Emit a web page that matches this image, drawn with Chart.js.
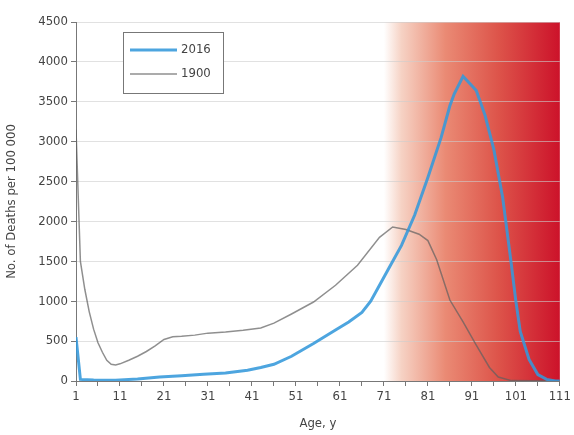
<!DOCTYPE html>
<html>
<head>
<meta charset="utf-8">
<script src="https://cdn.jsdelivr.net/npm/chart.js@4/dist/chart.umd.min.js"></script>
<style>
  html, body { margin: 0; padding: 0; background: #fff; }
  #wrap { position: relative; width: 574px; height: 435px; }
  canvas { display: block; }
</style>
</head>
<body>
<div id="wrap"><canvas id="c" width="574" height="435"></canvas></div>
<script>
// ---- Data ----
const ages1900 = [1, 2, 3, 4, 5, 6, 7, 8, 9, 10, 11, 13, 15, 17, 19, 21, 23, 25, 28, 31, 35, 39, 43, 46, 50, 55, 60, 65, 70, 73, 76, 79, 81, 83, 86, 89, 92, 95, 97, 100, 111];
const deaths1900 = [3150, 1500, 1150, 870, 650, 480, 360, 260, 210, 200, 215, 260, 310, 370, 440, 520, 555, 560, 575, 600, 615, 635, 665, 725, 840, 990, 1200, 1450, 1800, 1930, 1900, 1840, 1760, 1520, 1015, 740, 450, 170, 50, 5, 0];

const ages2016 = [1, 2, 5, 10, 15, 20, 25, 30, 35, 40, 43, 46, 50, 55, 60, 63, 66, 68, 70, 72, 75, 78, 81, 84, 86, 87, 89, 91, 92, 94, 96, 98, 100, 101, 102, 104, 106, 108, 110, 111];
const deaths2016 = [550, 20, 12, 10, 25, 50, 65, 85, 100, 135, 170, 210, 310, 470, 640, 740, 860, 1000, 1200, 1400, 1700, 2080, 2550, 3050, 3450, 3600, 3820, 3700, 3640, 3330, 2900, 2300, 1450, 1000, 620, 270, 80, 20, 0, 0];

const xTickValues = [1, 6, 11, 16, 21, 26, 31, 36, 41, 46, 51, 56, 61, 66, 71, 76, 81, 86, 91, 96, 101, 106, 111];
const xTickLabels = ['1', '11', '21', '31', '41', '51', '61', '71', '81', '91', '101', '111'];
const yTickValues = [0, 500, 1000, 1500, 2000, 2500, 3000, 3500, 4000, 4500];
const seriesNames = ['2016', '1900'];
const bandStartAge = 71;

const FONT = "'Liberation Sans Narrow', 'DejaVu Sans Condensed', 'Liberation Sans', sans-serif";

const toPts = (xs, ys) => xs.map((x, i) => ({ x: x, y: ys[i] }));

const bandPlugin = {
  id: 'band',
  beforeDraw(chart) {
    const { ctx, chartArea, scales } = chart;
    const x0 = scales.x.getPixelForValue(bandStartAge);
    const x1 = chartArea.right;
    const g = ctx.createLinearGradient(x0, 0, x1, 0);
    g.addColorStop(0, 'rgba(255,255,255,1)');
    g.addColorStop(0.1, 'rgb(246,210,196)');
    g.addColorStop(0.35, 'rgb(234,138,116)');
    g.addColorStop(0.65, 'rgb(221,84,74)');
    g.addColorStop(1, 'rgb(204,18,42)');
    ctx.save();
    ctx.fillStyle = g;
    ctx.fillRect(x0, chartArea.top, x1 - x0, chartArea.bottom - chartArea.top);
    ctx.restore();
  }
};

const legendPlugin = {
  id: 'customLegend',
  afterDraw(chart) {
    const { ctx } = chart;
    const bx = 123, by = 32, bw = 100, bh = 61;
    ctx.save();
    ctx.fillStyle = '#fff';
    ctx.fillRect(bx, by, bw, bh);
    ctx.strokeStyle = '#777';
    ctx.lineWidth = 1;
    ctx.strokeRect(bx + 0.5, by + 0.5, bw, bh);
    const rows = [
      { y: 50, color: chart.data.datasets[0].borderColor, w: 3, text: seriesNames[0] },
      { y: 74, color: chart.data.datasets[1].borderColor, w: 1.5, text: seriesNames[1] }
    ];
    ctx.font = '13px ' + FONT;
    ctx.textBaseline = 'middle';
    rows.forEach(r => {
      ctx.strokeStyle = r.color;
      ctx.lineWidth = r.w;
      ctx.beginPath();
      ctx.moveTo(130, r.y);
      ctx.lineTo(177, r.y);
      ctx.stroke();
      ctx.fillStyle = '#444';
      ctx.fillText(r.text, 181, r.y);
    });
    ctx.restore();
  }
};

new Chart(document.getElementById('c'), {
  type: 'line',
  data: {
    datasets: [
      {
        label: seriesNames[0],
        data: toPts(ages2016, deaths2016),
        borderColor: 'rgba(52,152,219,0.88)',
        borderWidth: 3,
        pointRadius: 0,
        tension: 0,
        fill: false
      },
      {
        label: seriesNames[1],
        data: toPts(ages1900, deaths1900),
        borderColor: 'rgba(95,95,95,0.7)',
        borderWidth: 1.5,
        pointRadius: 0,
        tension: 0,
        fill: false
      }
    ]
  },
  options: {
    responsive: false,
    animation: false,
    layout: { padding: { top: 22, right: 14, left: 0, bottom: 0 } },
    plugins: {
      legend: { display: false },
      tooltip: { enabled: false }
    },
    scales: {
      x: {
        type: 'linear',
        min: 1,
        max: 111,
        afterBuildTicks: s => { s.ticks = xTickValues.map(v => ({ value: v })); },
        afterFit: s => { s.height = 54; },
        ticks: {
          autoSkip: false,
          maxRotation: 0,
          color: '#444',
          font: { family: FONT, size: 13 },
          padding: 3,
          callback: v => xTickLabels.includes(String(v)) ? String(v) : ''
        },
        grid: { drawOnChartArea: false, tickLength: 5, color: '#777' },
        border: { display: true, color: '#777', width: 1 },
        title: {
          display: true,
          text: 'Age, y',
          color: '#444',
          font: { family: FONT, size: 13 },
          padding: { top: 10 }
        }
      },
      y: {
        min: 0,
        max: 4500,
        afterBuildTicks: s => { s.ticks = yTickValues.map(v => ({ value: v })); },
        afterFit: s => { s.width = 76; },
        ticks: {
          color: '#444',
          font: { family: FONT, size: 13 },
          padding: 3,
          callback: v => String(v)
        },
        grid: { color: 'rgba(205,205,205,0.6)', tickColor: '#777', tickLength: 5 },
        border: { display: true, color: '#777', width: 1 },
        title: {
          display: true,
          text: 'No. of Deaths per 100 000',
          color: '#444',
          font: { family: FONT, size: 13 },
          padding: { bottom: 4 }
        }
      }
    }
  },
  plugins: [bandPlugin, legendPlugin]
});
</script>
</body>
</html>
